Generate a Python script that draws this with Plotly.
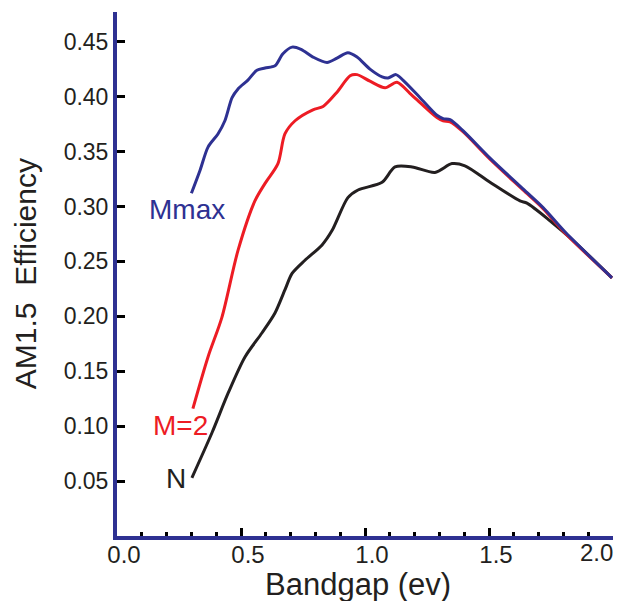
import plotly.graph_objects as go

# Data
mmax_x = [0.30, 0.335, 0.367, 0.407, 0.435, 0.464, 0.488, 0.528, 0.564, 0.597, 0.637, 0.669,
          0.706, 0.742, 0.79, 0.847, 0.887, 0.931, 0.968, 1.02, 1.069, 1.093, 1.125, 1.153,
          1.222, 1.29, 1.315, 1.343, 1.395, 1.504, 1.637, 1.718, 1.81, 1.996]
mmax_y = [0.312, 0.333, 0.354, 0.366, 0.378, 0.399, 0.407, 0.415, 0.424, 0.426, 0.428, 0.439,
          0.445, 0.443, 0.436, 0.431, 0.435, 0.44, 0.436, 0.425, 0.418, 0.417, 0.42, 0.415,
          0.399, 0.383, 0.380, 0.379, 0.369, 0.344, 0.316, 0.299, 0.276, 0.235]

m2_x = [0.306, 0.367, 0.423, 0.488, 0.556, 0.597, 0.649, 0.677, 0.718, 0.79, 0.831, 0.887,
        0.94, 0.968, 1.02, 1.081, 1.129, 1.181, 1.234, 1.29, 1.315, 1.343, 1.395, 1.504,
        1.637, 1.718, 1.81, 1.996]
m2_y = [0.116, 0.163, 0.199, 0.26, 0.305, 0.321, 0.339, 0.366, 0.378, 0.388, 0.391, 0.404,
        0.419, 0.42, 0.414, 0.408, 0.413, 0.403, 0.392, 0.381, 0.378, 0.377, 0.368, 0.343,
        0.315, 0.298, 0.275, 0.235]

n_x = [0.302, 0.383, 0.448, 0.516, 0.585, 0.637, 0.677, 0.706, 0.758, 0.827, 0.867, 0.931,
       0.972, 1.069, 1.121, 1.19, 1.282, 1.351, 1.403, 1.504, 1.625, 1.653, 1.746, 1.839, 1.996]
n_y = [0.053, 0.094, 0.13, 0.163, 0.185, 0.203, 0.224, 0.239, 0.251, 0.265, 0.278, 0.308,
       0.315, 0.322, 0.336, 0.336, 0.331, 0.339, 0.337, 0.322, 0.305, 0.303, 0.287, 0.269, 0.235]

series_names = ["N", "M=2", "Mmax"]
series_x = [n_x, m2_x, mmax_x]
series_y = [n_y, m2_y, mmax_y]
series_colors = ["#231f20", "#ed1c24", "#2e3192"]
label_pos = [(0.238, 0.052), (0.258, 0.101), (0.282, 0.297)]

y_ticks = [0.05, 0.10, 0.15, 0.20, 0.25, 0.30, 0.35, 0.40, 0.45]
x_ticks = [0.0, 0.5, 1.0, 1.5, 2.0]
x_ticktext = ["0.0", "0.5", "1.0", "1.5", ""]   # last label placed flush with the axis end below
x_last_label = "2.0"

FONT = "Liberation Sans, Arial, sans-serif"
TXT = "#231f20"

fig = go.Figure()
for xs, ys, name, col in zip(series_x, series_y, series_names, series_colors):
    fig.add_trace(go.Scatter(x=xs, y=ys, mode="lines", name=name,
                             line=dict(color=col, width=3, shape="spline", smoothing=0.8)))

for name, col, (lx, ly) in zip(series_names, series_colors, label_pos):
    fig.add_annotation(x=lx, y=ly, xref="x", yref="y", text=name, showarrow=False,
                       font=dict(family=FONT, size=28, color=col),
                       xanchor="center", yanchor="middle")

fig.add_annotation(x=x_ticks[-1], y=-0.032, xref="x", yref="paper",
                   text=x_last_label, showarrow=False, xshift=2,
                   font=dict(family=FONT, size=24, color=TXT),
                   xanchor="right", yanchor="middle")

fig.add_annotation(x=-0.185, y=0.50, xref="paper", yref="paper",
                   text="AM1.5&nbsp; Efficiency", textangle=-90, showarrow=False,
                   font=dict(family=FONT, size=30, color=TXT),
                   xanchor="center", yanchor="middle")
fig.add_annotation(x=0.486, y=-0.092, xref="paper", yref="paper",
                   text="Bandgap (ev)", showarrow=False,
                   font=dict(family=FONT, size=31, color=TXT),
                   xanchor="center", yanchor="middle")

fig.update_layout(
    width=627, height=601,
    margin=dict(l=117, r=14, t=12, b=65),
    paper_bgcolor="white", plot_bgcolor="white",
    showlegend=False,
    font=dict(family=FONT, color=TXT),
)
fig.update_xaxes(
    range=[0, 2.0], tickvals=x_ticks, ticktext=x_ticktext,
    showgrid=False, zeroline=False, automargin=False,
    showline=True, linecolor="#2e3192", linewidth=4,
    ticks="inside", ticklen=8, tickwidth=3, tickcolor="black",
    minor=dict(dtick=0.1, tick0=0, ticks="inside", ticklen=4, tickwidth=3, tickcolor="black", showgrid=False),
    tickfont=dict(family=FONT, size=24, color=TXT),
    ticklabelshift=7, ticklabelstandoff=-6,
)
fig.update_yaxes(
    range=[0, 0.477], tickvals=y_ticks, ticktext=[f"{v:.2f}" for v in y_ticks],
    showgrid=False, zeroline=False, automargin=False,
    showline=True, linecolor="#2e3192", linewidth=4,
    ticks="inside", ticklen=8, tickwidth=3, tickcolor="black",
    tickfont=dict(family=FONT, size=23, color=TXT),
)

fig.write_html("out.html")
